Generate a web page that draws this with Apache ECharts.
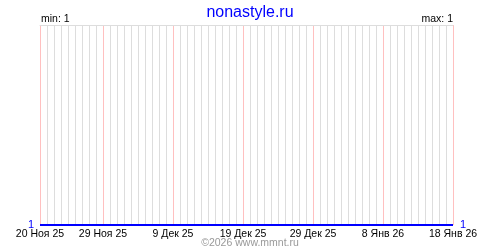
<!DOCTYPE html>
<html>
<head>
<meta charset="utf-8">
<script src="https://cdn.jsdelivr.net/npm/echarts@6/dist/echarts.min.js"></script>
<style>html,body{margin:0;padding:0;background:#fff}#c{width:500px;height:250px}</style>
</head>
<body>
<div id="c"></div>
<script>
const title = 'nonastyle.ru';
const footer = '\u00a92026 www.mmnt.ru';
const months = ['Ноя','Ноя','Ноя','Ноя','Ноя','Ноя','Ноя','Ноя','Ноя','Ноя','Ноя',
  'Дек','Дек','Дек','Дек','Дек','Дек','Дек','Дек','Дек','Дек','Дек','Дек','Дек','Дек','Дек','Дек','Дек','Дек','Дек','Дек','Дек','Дек','Дек','Дек','Дек','Дек','Дек','Дек','Дек','Дек','Дек',
  'Янв','Янв','Янв','Янв','Янв','Янв','Янв','Янв','Янв','Янв','Янв','Янв','Янв','Янв','Янв','Янв','Янв','Янв'];
const days = [20,21,22,23,24,25,26,27,28,29,30,
  1,2,3,4,5,6,7,8,9,10,11,12,13,14,15,16,17,18,19,20,21,22,23,24,25,26,27,28,29,30,31,
  1,2,3,4,5,6,7,8,9,10,11,12,13,14,15,16,17,18];
const years = days.map((d, i) => i < 42 ? '25' : '26');
const categories = days.map((d, i) => d + ' ' + months[i] + ' ' + years[i]);
const values = categories.map(() => 1);
const tickLabels = ['20 Ноя 25','29 Ноя 25','9 Дек 25','19 Дек 25','29 Дек 25','8 Янв 26','18 Янв 26'];

const vMin = Math.min(...values), vMax = Math.max(...values);
const font = 'Liberation Sans';
const isLabel = (i) => tickLabels.indexOf(categories[i]) >= 0;
const grayIdx = categories.map((c, i) => i).filter(i => !isLabel(i));

const chart = echarts.init(document.getElementById('c'));
chart.setOption({
  animation: false,
  backgroundColor: '#fff',
  title: {
    text: title, left: 'center', top: 0,
    textStyle: { color: '#0000ff', fontSize: 16, fontWeight: 'normal', fontFamily: font }
  },
  graphic: [
    { type: 'text', left: 41, top: 14, style: { text: 'min: ' + vMin, fill: '#000', font: '10.5px "Liberation Sans"' } },
    { type: 'text', right: 47, top: 14, style: { text: 'max: ' + vMax, fill: '#000', font: '10.5px "Liberation Sans"', align: 'right' } },
    { type: 'text', left: 'center', top: 238, style: { text: footer, fill: '#999', font: '10.5px "Liberation Sans"' } }
  ],
  grid: { left: 40, right: 47, top: 25, bottom: 25, containLabel: false },
  xAxis: [
    {
      type: 'category', data: categories, boundaryGap: false, position: 'bottom',
      axisLine: { show: false }, axisTick: { show: false },
      axisLabel: { show: true, interval: isLabel, color: '#000', fontSize: 10.5, fontFamily: font, margin: 4 },
      splitLine: { show: true, interval: (i) => grayIdx.indexOf(i) >= 0, lineStyle: { color: '#dddddd', width: 1 } }
    },
    {
      type: 'category', data: categories, boundaryGap: false, position: 'top',
      axisLine: { show: true, lineStyle: { color: '#dddddd', width: 1 } },
      axisTick: { show: false }, axisLabel: { show: false },
      splitLine: { show: true, interval: isLabel, lineStyle: { color: '#ffc0c0', width: 1 } }
    }
  ],
  yAxis: [
    {
      type: 'value', min: vMin, max: vMin + 1, interval: 1, position: 'left',
      axisLine: { show: false }, axisTick: { show: false }, splitLine: { show: false },
      axisLabel: { color: '#0000ff', fontSize: 11, fontFamily: font, margin: 6,
        formatter: v => v === vMin ? String(vMin) : '' }
    },
    {
      type: 'value', min: vMin, max: vMin + 1, interval: 1, position: 'right',
      axisLine: { show: false }, axisTick: { show: false }, splitLine: { show: false },
      axisLabel: { color: '#0000ff', fontSize: 11, fontFamily: font, margin: 7,
        formatter: v => v === vMax ? String(vMax) : '' }
    }
  ],
  series: [{
    type: 'line', data: values, xAxisIndex: 0, yAxisIndex: 0,
    symbol: 'none', lineStyle: { color: '#0000ff', width: 2 }
  }]
});
</script>
</body>
</html>
